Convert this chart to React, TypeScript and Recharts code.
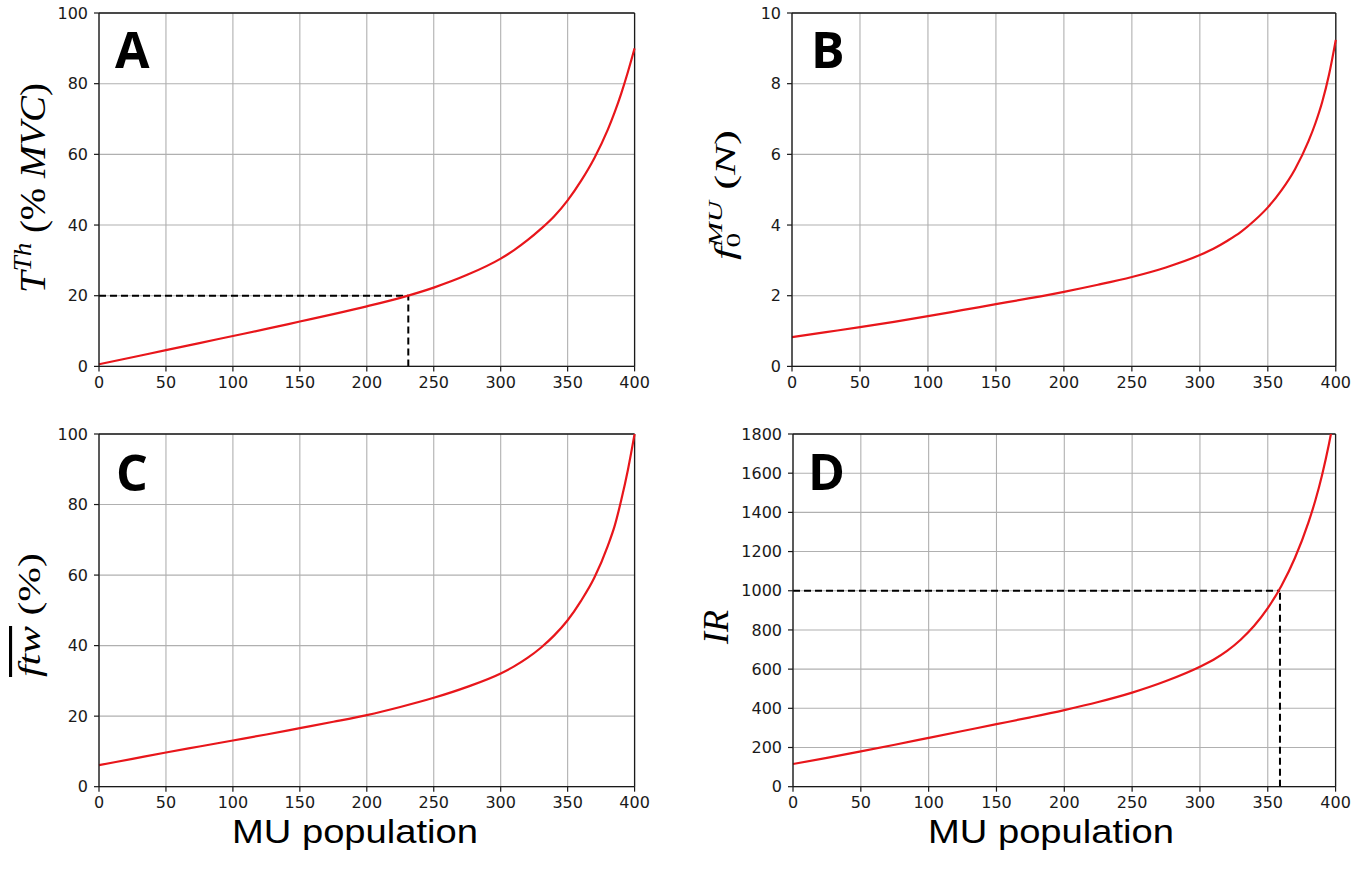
import React from "react";
import {
  LineChart,
  Line,
  XAxis,
  YAxis,
  CartesianGrid,
  ReferenceLine,
} from "recharts";

// MU index sampled along the population (shared x axis of every panel)
const muIndex = [0, 25, 50, 75, 100, 125, 150, 175, 200, 225, 250, 275, 300, 310, 320, 330, 340, 350, 360, 370, 380, 385, 390, 395, 400];

// A: recruitment threshold (% MVC)
const thresholdPct = [0.6, 2.6, 4.6, 6.6, 8.6, 10.6, 12.7, 14.8, 17.0, 19.4, 22.3, 25.9, 30.5, 32.9, 35.7, 38.9, 42.5, 47.0, 52.5, 59.0, 67.0, 71.8, 77.2, 83.3, 90.0];
// B: MU twitch force (N)
const twitchForce = [0.83, 0.97, 1.11, 1.26, 1.42, 1.59, 1.76, 1.93, 2.11, 2.31, 2.53, 2.8, 3.15, 3.33, 3.55, 3.8, 4.12, 4.5, 4.98, 5.58, 6.38, 6.88, 7.48, 8.25, 9.24];
// C: mean twitch fraction (%)
const twitchPct = [6.1, 7.9, 9.7, 11.4, 13.1, 14.8, 16.6, 18.4, 20.3, 22.6, 25.2, 28.3, 32.1, 34.1, 36.5, 39.4, 42.9, 47.2, 52.7, 59.3, 68.3, 73.8, 81.2, 89.8, 100.0];
// D: innervation ratio
const innervation = [116, 147, 180, 214, 249, 284, 319, 354, 391, 432, 480, 539, 612, 648, 693, 750, 821, 911, 1024, 1167, 1349, 1459, 1590, 1745, 1930];

const muTicks = [0, 50, 100, 150, 200, 250, 300, 350, 400];
const pctTicks = [0, 20, 40, 60, 80, 100];
const forceTicks = [0, 2, 4, 6, 8, 10];
const irTicks = [0, 200, 400, 600, 800, 1000, 1200, 1400, 1600, 1800];

// dashed guides: [mu, value]
const thresholdGuide = [231, 20];
const irGuide = [359, 1000];

const INK = "#1a1a1a";
const RED = "#e8161b";
const tickStyle = { fill: INK, fontSize: 16, fontFamily: "DejaVu Sans" };

type PanelProps = {
  values: number[];
  ticks: number[];
  box: [number, number, number, number]; // plot left, top, width, height
  guide?: number[];
};

function Panel({ values, ticks, box, guide }: PanelProps) {
  const [left, top, w, h] = box;
  const data = muIndex.map((mu, i) => ({ mu, v: values[i] }));
  const yMax = ticks[ticks.length - 1];
  const padL = 80;
  const padT = 10;
  const padR = 30;
  const padB = 40;

  return (
    <div style={{ position: "absolute", left: left - padL, top: top - padT }}>
      <LineChart
        width={w + padL + padR}
        height={h + padT + padB}
        data={data}
        margin={{ top: padT, right: padR, left: 0, bottom: 0 }}
      >
        <CartesianGrid stroke="#b0b0b0" strokeWidth={1.1} />
        <XAxis
          dataKey="mu"
          type="number"
          domain={[0, 400]}
          ticks={muTicks}
          interval={0}
          height={padB}
          tickSize={5}
          tickMargin={5}
          tick={tickStyle}
          axisLine={{ stroke: INK, strokeWidth: 1.3 }}
          tickLine={{ stroke: INK, strokeWidth: 1.2 }}
        />
        <YAxis
          type="number"
          domain={[0, yMax]}
          ticks={ticks}
          interval={0}
          width={padL}
          allowDataOverflow
          tickSize={5}
          tickMargin={6}
          tick={tickStyle}
          axisLine={{ stroke: INK, strokeWidth: 1.3 }}
          tickLine={{ stroke: INK, strokeWidth: 1.2 }}
        />
        <ReferenceLine y={yMax} stroke={INK} strokeWidth={1.3} />
        <ReferenceLine x={400} stroke={INK} strokeWidth={1.3} />
        {guide && (
          <ReferenceLine
            segment={[{ x: 0, y: guide[1] }, { x: guide[0], y: guide[1] }]}
            stroke="#000"
            strokeWidth={2}
            strokeDasharray="7 4"
          />
        )}
        {guide && (
          <ReferenceLine
            segment={[{ x: guide[0], y: 0 }, { x: guide[0], y: guide[1] }]}
            stroke="#000"
            strokeWidth={2}
            strokeDasharray="7 4"
          />
        )}
        <Line
          type="monotone"
          dataKey="v"
          stroke={RED}
          strokeWidth={2.2}
          dot={false}
          isAnimationActive={false}
        />
      </LineChart>
    </div>
  );
}

function Titles() {
  const serif = "Liberation Serif";
  const sans = "Open Sans";
  return (
    <svg
      width={1370}
      height={880}
      style={{ position: "absolute", left: 0, top: 0, pointerEvents: "none" }}
    >
      {/* panel letters */}
      <g fontFamily={sans} fontWeight="bold" fontSize={50} fill="#000">
        <text x={115} y={68}>A</text>
        <text x={811} y={68}>B</text>
        <text x={116} y={491}>C</text>
        <text x={808} y={490}>D</text>
      </g>

      {/* y axis titles */}
      <text
        transform="translate(45,188) rotate(-90)"
        textAnchor="middle"
        fontFamily={serif}
        fontSize={36}
        fill="#000"
        textLength={210}
        lengthAdjust="spacingAndGlyphs"
      >
        <tspan fontStyle="italic">T</tspan>
        <tspan fontStyle="italic" fontSize={25} dy={-14}>Th</tspan>
        <tspan dy={14}> (% </tspan>
        <tspan fontStyle="italic">MVC</tspan>
        <tspan>)</tspan>
      </text>
      <text
        transform="translate(735,195) rotate(-90)"
        textAnchor="middle"
        fontFamily={serif}
        fontSize={29}
        fill="#000"
        textLength={130}
        lengthAdjust="spacingAndGlyphs"
      >
        <tspan fontStyle="italic">f</tspan>
        <tspan fontSize={19} dy={5}>0</tspan>
        <tspan fontStyle="italic" fontSize={19} dx={-9} dy={-18}>MU</tspan>
        <tspan dy={13}> (</tspan>
        <tspan fontStyle="italic">N</tspan>
        <tspan>)</tspan>
      </text>
      <text
        transform="translate(40,615) rotate(-90)"
        textAnchor="middle"
        fontFamily={serif}
        fontSize={31}
        fill="#000"
        textLength={124}
        lengthAdjust="spacingAndGlyphs"
      >
        <tspan fontStyle="italic" textDecoration="overline">ftw</tspan>
        <tspan> (%)</tspan>
      </text>
      <text
        transform="translate(728,627) rotate(-90)"
        textAnchor="middle"
        fontFamily={serif}
        fontSize={35}
        fill="#000"
        textLength={34}
        lengthAdjust="spacingAndGlyphs"
      >
        <tspan fontStyle="italic">IR</tspan>
      </text>

      {/* x axis titles */}
      <g fontFamily="Liberation Sans" fontSize={34} fill="#000" textAnchor="middle">
        <text x={355} y={843} textLength={246} lengthAdjust="spacingAndGlyphs">MU population</text>
        <text x={1051} y={843} textLength={246} lengthAdjust="spacingAndGlyphs">MU population</text>
      </g>
    </svg>
  );
}

export default function App() {
  return (
    <div
      style={{
        position: "absolute",
        left: 0,
        top: 0,
        width: 1370,
        height: 880,
        background: "#fff",
        overflow: "hidden",
      }}
    >
      <Panel values={thresholdPct} ticks={pctTicks} box={[98.7, 13.3, 535.6, 353.4]} guide={thresholdGuide} />
      <Panel values={twitchForce} ticks={forceTicks} box={[791.5, 13.3, 543.8, 353.4]} />
      <Panel values={twitchPct} ticks={pctTicks} box={[98.7, 434, 535.6, 352.7]} />
      <Panel values={innervation} ticks={irTicks} box={[792.7, 434, 542.6, 352.7]} guide={irGuide} />
      <Titles />
    </div>
  );
}
